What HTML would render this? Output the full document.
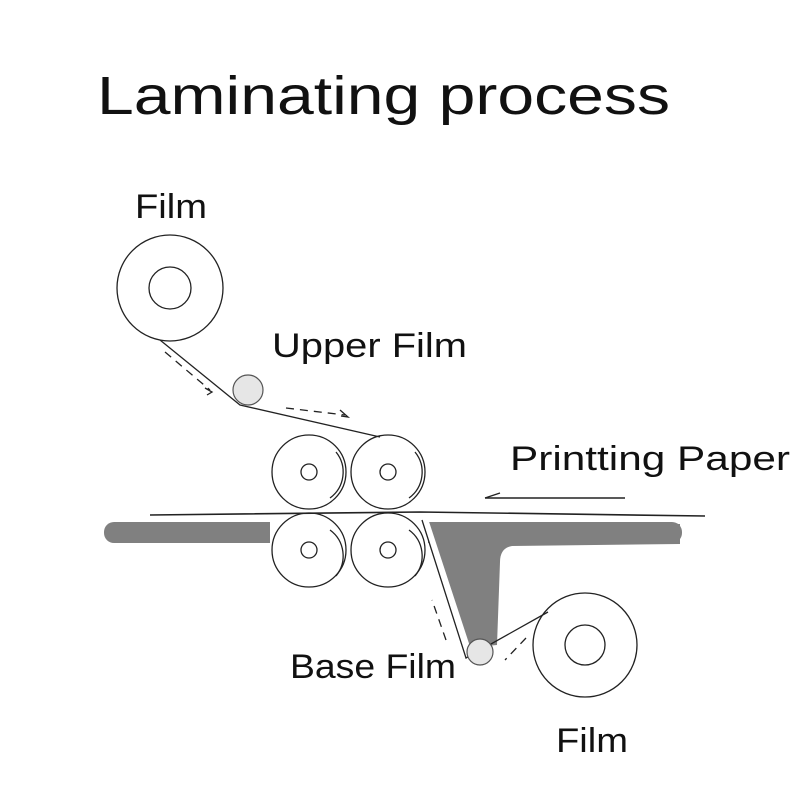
<!DOCTYPE html>
<html><head><style>
body{margin:0;background:#fff;}
svg{display:block}
text{font-family:"Liberation Sans",sans-serif;fill:#111;}
</style></head><body>
<svg width="800" height="800" viewBox="0 0 800 800">
<text x="97" y="114" font-size="54" textLength="573" lengthAdjust="spacingAndGlyphs">Laminating process</text>
<text x="135" y="218" font-size="34" textLength="72" lengthAdjust="spacingAndGlyphs">Film</text>
<text x="272" y="357" font-size="34" textLength="195" lengthAdjust="spacingAndGlyphs">Upper Film</text>
<text x="510" y="470" font-size="34" textLength="280" lengthAdjust="spacingAndGlyphs">Printting Paper</text>
<text x="290" y="678" font-size="34" textLength="166" lengthAdjust="spacingAndGlyphs">Base Film</text>
<text x="556" y="752" font-size="34" textLength="72" lengthAdjust="spacingAndGlyphs">Film</text>

<!-- gray bar and funnel -->
<rect x="104" y="522" width="578" height="21" rx="10" fill="#808080"/>
<path d="M425,522 L680,524 L680,544 L512,546 Q500,548 500,562 L497,645 L465,648 Z" fill="#808080"/>
<rect x="270" y="518" width="158" height="30" fill="#fff"/>
<path d="M426,522 L468,650" stroke="#fff" stroke-width="6"/>

<g fill="none" stroke="#222" stroke-width="1.3">
<circle cx="170" cy="288" r="53"/>
<circle cx="170" cy="288" r="21"/>
<path d="M160,340 L240,405 L380,437"/>
<circle cx="309" cy="472" r="37"/><circle cx="309" cy="472" r="8"/>
<circle cx="388" cy="472" r="37"/><circle cx="388" cy="472" r="8"/>
<circle cx="309" cy="550" r="37"/><circle cx="309" cy="550" r="8"/>
<circle cx="388" cy="550" r="37"/><circle cx="388" cy="550" r="8"/>
<path d="M150,515 L420,512 L705,516" stroke-width="1.6"/>
<path d="M485,498 L625,498" stroke-width="1.6"/>
<path d="M485,498 L500,493"/>
<path d="M422,520 L466,658 L548,612"/>
<circle cx="585" cy="645" r="52"/>
<circle cx="585" cy="645" r="20"/>
<path d="M165,352 L210,390" stroke-dasharray="8,6"/>
<path d="M286,408 L345,415" stroke-dasharray="8,6"/>
<path d="M446,640 L432,600" stroke-dasharray="8,6"/>
<path d="M526,638 L505,660" stroke-dasharray="8,6"/>
<path d="M205,388 L212,392 L207,395"/>
<path d="M340,410 L348,417 L341,416"/>
<path d="M336,452 A32,32 0 0 1 330,498"/>
<path d="M415,452 A32,32 0 0 1 409,498"/>
<path d="M330,530 A32,32 0 0 1 336,576"/>
<path d="M409,530 A32,32 0 0 1 415,576"/>
</g>
<circle cx="248" cy="390" r="15" fill="#e6e6e6" stroke="#555" stroke-width="1.2"/>
<circle cx="480" cy="652" r="13" fill="#e6e6e6" stroke="#555" stroke-width="1.2"/>
</svg>
</body></html>
